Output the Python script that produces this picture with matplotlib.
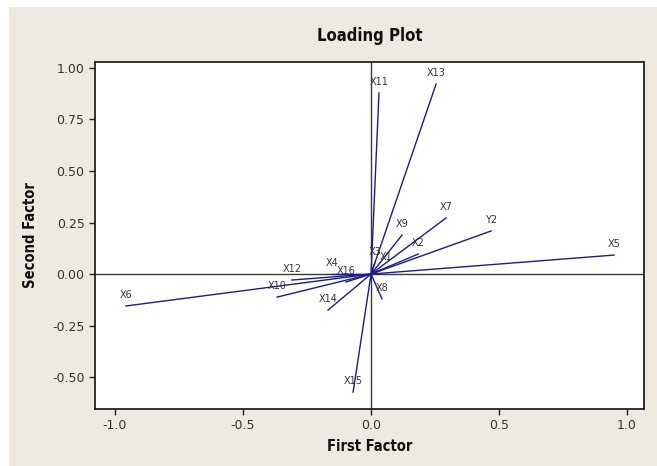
import matplotlib
matplotlib.use("Agg")
import matplotlib.pyplot as plt
from matplotlib.patches import Rectangle

# loadings
names = ["X1", "X2", "X3", "X4", "X5", "X6", "X7", "X8", "X9", "X10",
         "X11", "X12", "X13", "X14", "X15", "X16", "Y2"]
first = [0.060, 0.184, 0.015, -0.152, 0.949, -0.957, 0.293, 0.043, 0.121, -0.367,
         0.031, -0.309, 0.254, -0.168, -0.070, -0.098, 0.469]
second = [0.030, 0.097, 0.055, 0.000, 0.092, -0.155, 0.272, -0.121, 0.189, -0.112,
          0.879, -0.029, 0.922, -0.175, -0.573, -0.039, 0.209]

xticks = [-1.0, -0.5, 0.0, 0.5, 1.0]
yticks = [-0.50, -0.25, 0.00, 0.25, 0.50, 0.75, 1.00]

bg = "#EEEAE0"
fig = plt.figure(figsize=(6.57, 4.66), dpi=100, facecolor="white")
fig.patches.append(Rectangle((9 / 657, 0), 1, (466 - 7) / 466, transform=fig.transFigure,
                             facecolor=bg, edgecolor="none", zorder=-1))
ax = fig.add_axes([95 / 657, 57 / 466, 549 / 657, 347 / 466])
ax.set_facecolor("white")

ax.axhline(0, color="#3a3a3a", lw=1.0, zorder=1)
ax.axvline(0, color="#3a3a3a", lw=1.0, zorder=1)

for n, x, y in zip(names, first, second):
    ax.plot([0, x], [0, y], color="#1c1c8a", lw=1.0, zorder=2)
    ax.annotate(n, (x, y), xytext=(0, 6), textcoords="offset pixels",
                ha="center", va="bottom", fontsize=7, color="#333333", zorder=3)

ax.set_xlim(-1.078, 1.066)
ax.set_ylim(-0.655, 1.029)
ax.set_xticks(xticks)
ax.set_xticklabels([f"{t:.1f}" for t in xticks])
ax.set_yticks(yticks)
ax.set_yticklabels([f"{t:.2f}" for t in yticks])
ax.tick_params(direction="out", length=4, width=1, labelsize=9, colors="#222222",
               labelcolor="#333333")
for s in ax.spines.values():
    s.set_color("#111111")
    s.set_linewidth(1.2)

bold = ["Liberation Sans Narrow", "DejaVu Sans"]
fig.text((95 + 644) / 2 / 657, 1 - 36 / 466, "Loading Plot", ha="center", va="center",
         fontsize=12, fontweight="bold", family=bold, fontstretch="condensed",
         color="#111111")
ax.set_xlabel("First Factor", fontsize=10.5, fontweight="bold", family=bold,
              fontstretch="condensed", color="#111111", labelpad=5)
ax.set_ylabel("Second Factor", fontsize=10.5, fontweight="bold", family=bold,
              fontstretch="condensed", color="#111111", labelpad=10)

fig.savefig("out.png", dpi=100, facecolor=fig.get_facecolor())
